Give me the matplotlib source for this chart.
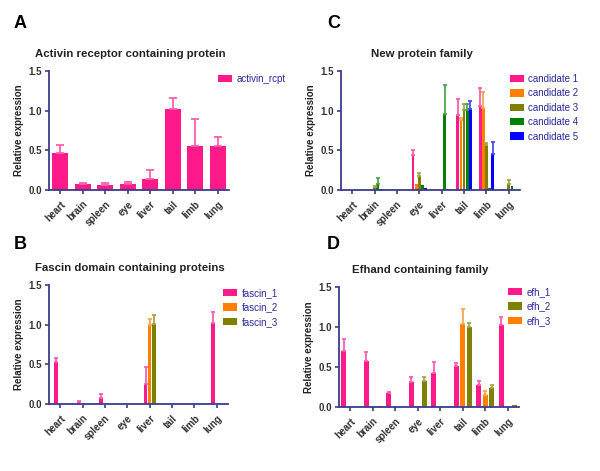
import numpy as np
import matplotlib
matplotlib.use("Agg")
import matplotlib.pyplot as plt

plt.rcParams['font.family'] = ['Liberation Sans', 'DejaVu Sans']

tissues = ['heart', 'brain', 'spleen', 'eye', 'liver', 'tail', 'limb', 'lung']

# panel A
activin_names = ['activin_rcpt']
activin_vals = [[0.47, 0.08, 0.06, 0.075, 0.14, 1.02, 0.56, 0.55]]
activin_err = [[0.10, 0.01, 0.03, 0.025, 0.11, 0.14, 0.33, 0.12]]

# panel B
fascin_names = ['fascin_1', 'fascin_2', 'fascin_3']
fascin_vals = [[0.53, 0.03, 0.07, 0.005, 0.25, 0.003, 0.0, 1.02],
               [0.0, 0.0, 0.0, 0.0, 1.00, 0.0, 0.0, 0.0],
               [0.0, 0.0, 0.0, 0.0, 1.01, 0.0, 0.0, 0.0]]
fascin_err = [[0.05, 0.01, 0.06, 0.0, 0.22, 0.0, 0.0, 0.14],
              [0.0, 0.0, 0.0, 0.0, 0.07, 0.0, 0.0, 0.0],
              [0.0, 0.0, 0.0, 0.0, 0.11, 0.0, 0.0, 0.0]]

# panel C
cand_names = ['candidate 1', 'candidate 2', 'candidate 3', 'candidate 4', 'candidate 5']
cand_vals = [[0.003, 0.005, 0.0, 0.44, 0.0, 0.95, 1.06, 0.01],
             [0.0, 0.01, 0.0, 0.08, 0.0, 0.88, 1.03, 0.0],
             [0.0, 0.04, 0.0, 0.18, 0.0, 1.01, 0.57, 0.07],
             [0.003, 0.08, 0.0, 0.06, 0.96, 1.01, 0.02, 0.05],
             [0.003, 0.015, 0.0, 0.03, 0.01, 1.02, 0.45, 0.0]]
cand_err = [[0.0, 0.0, 0.0, 0.07, 0.0, 0.20, 0.22, 0.0],
            [0.0, 0.0, 0.0, 0.0, 0.0, 0.03, 0.21, 0.0],
            [0.0, 0.01, 0.0, 0.04, 0.0, 0.08, 0.02, 0.06],
            [0.0, 0.07, 0.0, 0.0, 0.36, 0.08, 0.0, 0.0],
            [0.0, 0.0, 0.0, 0.0, 0.0, 0.10, 0.16, 0.0]]

# panel D (bar order: efh_1, efh_3, efh_2)
efh_names = ['efh_1', 'efh_2', 'efh_3']
efh_vals = [[0.70, 0.58, 0.17, 0.31, 0.42, 0.51, 0.28, 1.02],
            [0.0, 0.01, 0.0, 0.33, 0.0, 1.00, 0.24, 0.03],
            [0.0, 0.01, 0.005, 0.015, 0.0, 1.04, 0.15, 0.0]]
efh_err = [[0.15, 0.11, 0.02, 0.06, 0.14, 0.04, 0.05, 0.10],
           [0.0, 0.0, 0.0, 0.04, 0.0, 0.05, 0.03, 0.0],
           [0.0, 0.0, 0.0, 0.0, 0.0, 0.19, 0.05, 0.0]]

pink = '#FF1A8C'
orange = '#FF8000'
olive = '#808000'
green = '#008000'
blue = '#0000FF'
axcol = '#3C3C8C'
legcol = '#2A2A9A'

W, H = 600, 471
fig = plt.figure(figsize=(6, 4.71), dpi=100)


def px_axes(l, t, r, b):
    return fig.add_axes([l / W, 1 - b / H, (r - l) / W, (b - t) / H])


def err_color(c):
    rgb = np.array(matplotlib.colors.to_rgb(c))
    return tuple(rgb + (1 - rgb) * 0.3)


def panel(box, letter, lpos, title, names, vals, errs, colors, offsets, width,
          legpos):
    ax = px_axes(*box)
    x = np.arange(len(tissues))
    handles = []
    for i in range(len(names)):
        b = ax.bar(x + offsets[i], vals[i], width, color=colors[i], label=names[i],
                   zorder=2)
        handles.append(b)
        e = np.array(errs[i])
        m = e > 0
        ax.errorbar((x + offsets[i])[m], np.array(vals[i])[m],
                    yerr=[np.zeros(m.sum()), e[m]], fmt='none',
                    ecolor=err_color(colors[i]), elinewidth=1.3,
                    capsize=max(1.2, width * 4.5), capthick=1.3, zorder=3)
    ax.set_xlim(-0.5, 7.5)
    ax.set_ylim(0, 1.5)
    ax.set_yticks([0, 0.5, 1.0, 1.5])
    ax.set_yticklabels(['0.0', '0.5', '1.0', '1.5'])
    ax.set_xticks(x)
    ax.set_xticklabels(tissues, rotation=45, ha='right', rotation_mode='anchor')
    for s in ['top', 'right']:
        ax.spines[s].set_visible(False)
    for s in ['left', 'bottom']:
        ax.spines[s].set_color(axcol)
        ax.spines[s].set_linewidth(1.3)
    ax.tick_params(axis='both', colors=axcol, length=3, width=1.2,
                   labelsize=7, labelcolor='#333333')
    ax.tick_params(axis='y', pad=2)
    for lab in ax.get_xticklabels() + ax.get_yticklabels():
        lab.set_fontweight('bold')
    ax.set_ylabel('Relative expression', fontsize=7, fontweight='bold',
                  color='#222222', labelpad=3)
    ax.set_title(title, fontsize=8.2, fontweight='bold', pad=10, color='#222222',
                 x=0.45)
    fig.text(lpos[0] / W, 1 - lpos[1] / H, letter, fontsize=13, fontweight='bold',
             va='top', ha='left')
    leg = ax.legend(handles, names,
                    loc='upper left', bbox_to_anchor=(legpos[0] / W, 1 - legpos[1] / H),
                    bbox_transform=fig.transFigure, frameon=False, fontsize=7,
                    handlelength=1.4, handleheight=0.8, handletextpad=0.5,
                    labelspacing=0.45, borderpad=0, borderaxespad=0)
    for t in leg.get_texts():
        t.set_color(legcol)
    return ax


panel((49, 71, 229, 190), 'A', (14, 15), 'Activin receptor containing protein',
      activin_names, activin_vals, activin_err, [pink], [0.0], 0.7, (218, 74))

panel((49, 285, 228, 404), 'B', (14, 236), 'Fascin domain containing proteins',
      fascin_names, fascin_vals, fascin_err, [pink, orange, olive],
      [-0.18, 0.0, 0.18], 0.16, (223, 288))

panel((341, 71, 520, 190), 'C', (327, 15), 'New protein family',
      cand_names, cand_vals, cand_err, [pink, orange, olive, green, blue],
      [-0.28, -0.14, 0.0, 0.14, 0.28], 0.12, (510, 74))

panel((339, 287, 519, 407), 'D', (327, 236), 'Efhand containing family',
      efh_names, efh_vals, efh_err, [pink, olive, orange],
      [-0.29, 0.29, 0.0], 0.24, (508, 287))

fig.savefig('out.png', dpi=100)
